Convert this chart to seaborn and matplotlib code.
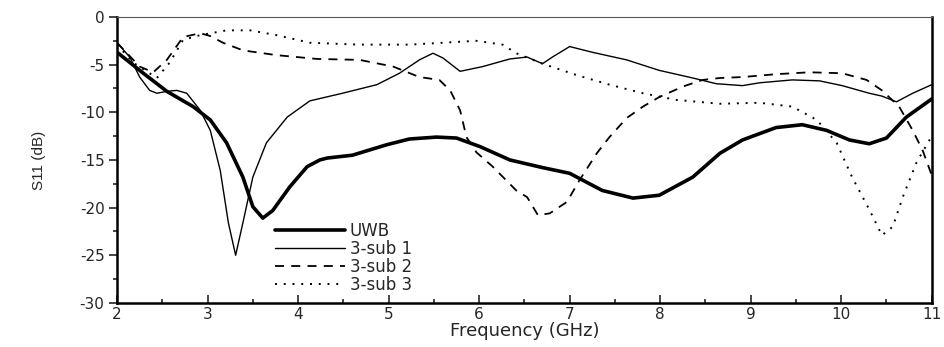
# S11 of the UWB antenna and the three sub-band variants

import seaborn as sns
import pandas as pd
import matplotlib.pyplot as plt
from matplotlib.ticker import MultipleLocator

# values (frequency in GHz, S11 in dB)
uwb_f = [2.0, 2.29, 2.55, 2.84, 3.03, 3.21, 3.39, 3.5, 3.61, 3.72, 3.91, 4.1, 4.24,
         4.32, 4.6, 4.98, 5.23, 5.53, 5.75, 6.01, 6.34, 6.7, 7.0, 7.36, 7.7, 7.99,
         8.36, 8.66, 8.91, 9.28, 9.57, 9.84, 10.09, 10.31, 10.5, 10.72, 11.0]
uwb_s = [-3.7, -5.9, -7.8, -9.4, -10.8, -13.2, -16.8, -19.9, -21.1, -20.3, -17.8,
         -15.7, -15.0, -14.8, -14.5, -13.4, -12.8, -12.6, -12.7, -13.6, -15.0, -15.8,
         -16.4, -18.2, -19.0, -18.7, -16.8, -14.3, -12.9, -11.6, -11.3, -11.9, -12.9,
         -13.3, -12.7, -10.5, -8.6]

sub1_f = [2.0, 2.14, 2.25, 2.36, 2.44, 2.55, 2.66, 2.77, 2.92, 3.03, 3.14, 3.23, 3.31,
          3.39, 3.5, 3.65, 3.88, 4.13, 4.49, 4.87, 5.12, 5.34, 5.49, 5.6, 5.79, 6.04,
          6.34, 6.53, 6.7, 6.81, 7.0, 7.25, 7.63, 7.99, 8.36, 8.62, 8.91, 9.1, 9.46,
          9.76, 10.01, 10.31, 10.45, 10.61, 10.79, 11.0]
sub1_s = [-2.7, -4.2, -6.3, -7.7, -8.0, -7.8, -7.7, -8.0, -9.8, -11.9, -16.1, -21.6,
          -25.0, -21.6, -16.8, -13.2, -10.5, -8.8, -8.0, -7.1, -5.9, -4.5, -3.8, -4.3,
          -5.7, -5.2, -4.4, -4.2, -4.9, -4.2, -3.1, -3.7, -4.5, -5.6, -6.4, -7.0, -7.2,
          -6.9, -6.6, -6.7, -7.2, -8.0, -8.3, -8.9, -8.0, -7.1]

sub2_f = [2.0, 2.25, 2.4, 2.55, 2.73, 2.92, 3.03, 3.17, 3.39, 3.76, 4.21, 4.68, 5.05,
          5.34, 5.56, 5.68, 5.79, 5.86, 5.97, 6.15, 6.41, 6.53, 6.65, 6.78, 6.97, 7.11,
          7.3, 7.44, 7.63, 7.81, 7.99, 8.25, 8.47, 8.66, 8.91, 9.28, 9.65, 10.01, 10.28,
          10.45, 10.64, 10.79, 10.9, 11.0]
sub2_s = [-2.7, -5.2, -5.8, -4.5, -2.1, -1.7, -2.0, -2.7, -3.5, -4.0, -4.4, -4.5, -5.2,
          -6.3, -6.6, -7.7, -9.8, -12.6, -14.2, -15.7, -18.2, -18.9, -20.8, -20.6, -19.4,
          -17.1, -14.3, -12.6, -10.6, -9.4, -8.4, -7.3, -6.6, -6.4, -6.3, -6.0, -5.8,
          -5.9, -6.6, -7.7, -9.4, -11.9, -14.0, -16.6]

sub3_f = [2.0, 2.18, 2.44, 2.58, 2.73, 2.92, 3.21, 3.47, 3.76, 4.13, 4.68, 5.23, 5.97,
          6.26, 6.41, 6.7, 7.08, 7.44, 7.81, 8.18, 8.66, 9.1, 9.46, 9.73, 9.95, 10.12,
          10.31, 10.45, 10.57, 10.68, 10.83, 11.0]
sub3_s = [-2.9, -4.8, -6.4, -4.8, -2.4, -1.9, -1.4, -1.4, -1.9, -2.7, -2.9, -2.9, -2.5,
          -2.9, -3.8, -4.9, -6.1, -7.1, -8.0, -8.7, -9.1, -9.0, -9.4, -10.8, -13.2, -16.8,
          -20.2, -22.9, -22.0, -18.9, -15.3, -12.5]

labels = ['UWB', '3-sub 1', '3-sub 2', '3-sub 3']

sns.set_style('white')
plt.rcParams['font.family'] = ['DejaVu Sans']
plt.rcParams['axes.unicode_minus'] = False

fig = plt.figure(figsize=(9.44, 3.47), dpi=100)
ax = fig.add_axes([0.124, 0.127, 0.863, 0.824])

series = [(uwb_f, uwb_s, 2.6, '-'),
          (sub1_f, sub1_s, 1.0, '-'),
          (sub2_f, sub2_s, 1.3, (0, (5, 4))),
          (sub3_f, sub3_s, 1.4, (0, (1, 3.5)))]

for (f, s, lw, ls), name in zip(series, labels):
    df = pd.DataFrame({'f': f, 's': s})
    sns.lineplot(data=df, x='f', y='s', ax=ax, color='k', linewidth=lw,
                 linestyle=ls, label=name, sort=False)

ax.set_xlim(2, 11)
ax.set_ylim(-30, 0)
ax.xaxis.set_major_locator(MultipleLocator(1))
ax.xaxis.set_minor_locator(MultipleLocator(0.5))
ax.yaxis.set_major_locator(MultipleLocator(5))
ax.yaxis.set_minor_locator(MultipleLocator(2.5))
ax.tick_params(axis='x', which='major', direction='in', length=6, width=1.2,
               labelsize=11, pad=3, bottom=True)
ax.tick_params(axis='x', which='minor', direction='in', length=3, width=1.2, bottom=True)
ax.tick_params(axis='y', which='major', direction='out', length=6, width=1.2,
               labelsize=11, pad=3, left=True)
ax.tick_params(axis='y', which='minor', direction='out', length=3, width=1.2, left=True)

ax.set_xlabel('Frequency (GHz)', fontsize=13, labelpad=0)
ax.set_ylabel('S11 (dB)', fontsize=11, family='Liberation Sans', labelpad=24)

for side in ['left', 'bottom', 'right']:
    ax.spines[side].set_linewidth(1.8)
    ax.spines[side].set_color('k')
ax.spines['top'].set_linewidth(0.8)
ax.spines['top'].set_color('#555555')

ax.legend(loc='lower left', bbox_to_anchor=(0.175, -0.02), frameon=False,
          fontsize=12, handlelength=4.2, handletextpad=0.3, labelspacing=0.0)

fig.savefig('out.png', dpi=100)
